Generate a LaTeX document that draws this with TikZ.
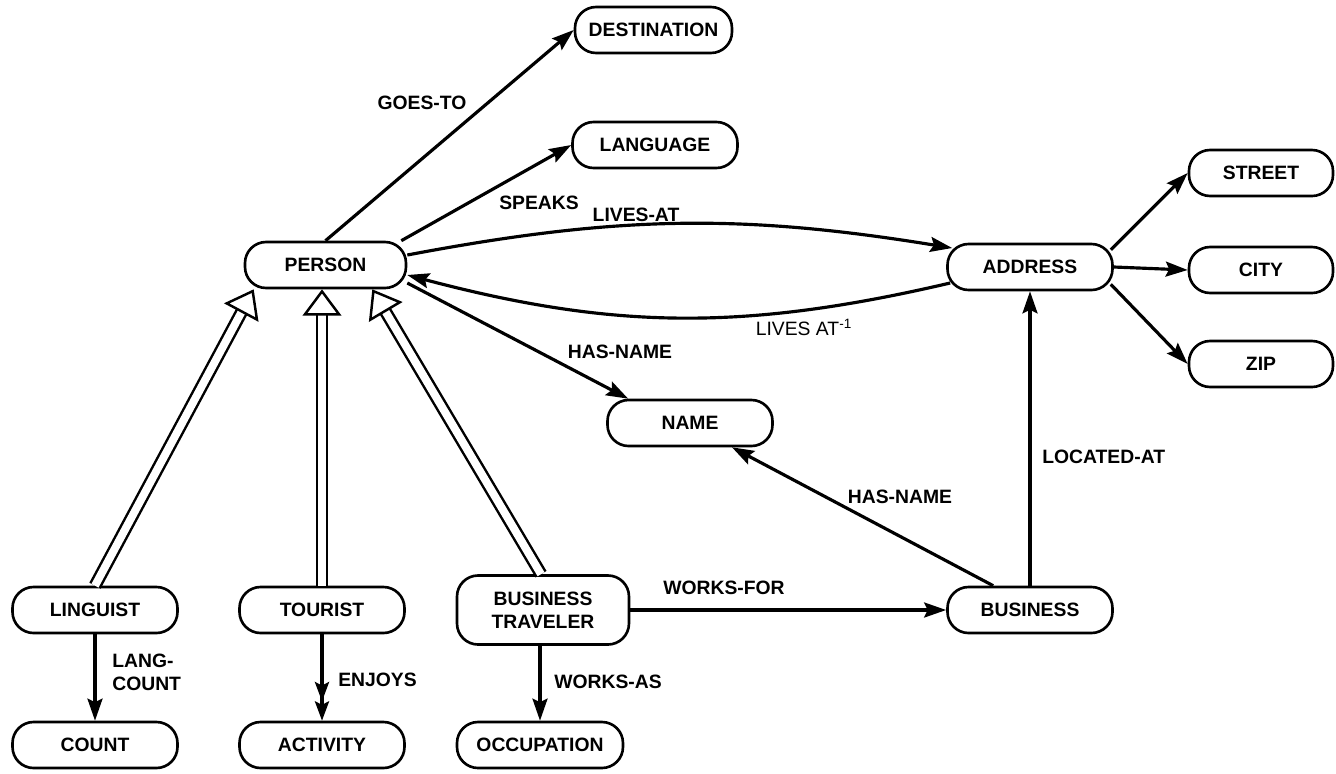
\documentclass[tikz,border=0pt]{standalone}
\usepackage{fontspec}
\setmainfont{Liberation Sans}
\usetikzlibrary{arrows.meta}
\usetikzlibrary{positioning}
\usetikzlibrary{calc}

\begin{document}
\begin{tikzpicture}[->,>={Stealth[length=12.5pt,width=8.5pt,inset=2pt]},line width=1.8pt]
	\tikzset{vertex/.style = {shape=rectangle, rounded corners=12pt, line width=1.5pt, draw, align=center, minimum width=3.3cm, minimum height=0.92cm, inner sep=2pt, font=\fontsize{11}{13}\selectfont\bfseries}}
	\tikzset{attr/.style = {vertex, minimum width=2.88cm}}
	\tikzset{isa/.style = {double, double distance=4.5pt, line width=1.4pt, -{Triangle[open,length=15pt,width=22pt]}}}
	\tikzset{rel/.style = {inner sep=1pt, align=left, font=\fontsize{11}{13}\selectfont\bfseries}}
	\useasboundingbox (0,0) rectangle (26.72,-15.46);

	\node[vertex, minimum width=3.14cm] (DEST) at (13.07,-0.60) {DESTINATION};
	\node[vertex] (LANG) at (13.10,-2.90) {LANGUAGE};
	\node[vertex, minimum width=3.22cm] (PERSON) at (6.51,-5.30) {PERSON};
	\node[vertex] (ADDR) at (20.60,-5.34) {ADDRESS};
	\node[attr] (STREET) at (25.22,-3.46) {STREET};
	\node[attr] (CITY) at (25.22,-5.40) {CITY};
	\node[attr] (ZIP) at (25.22,-7.28) {ZIP};
	\node[vertex] (NAME) at (13.80,-8.46) {NAME};
	\node[vertex] (LING) at (1.90,-12.20) {LINGUIST};
	\node[vertex] (TOUR) at (6.44,-12.20) {TOURIST};
	\node[vertex, minimum width=3.44cm, minimum height=1.38cm] (BTRAV) at (10.86,-12.20) {BUSINESS\\TRAVELER};
	\node[vertex] (BUS) at (20.60,-12.20) {BUSINESS};
	\node[vertex] (COUNT) at (1.90,-14.90) {COUNT};
	\node[vertex] (ACT) at (6.44,-14.90) {ACTIVITY};
	\node[vertex, minimum width=3.32cm] (OCC) at (10.80,-14.90) {OCCUPATION};

	\draw (PERSON.north) -- (DEST.west);
	\draw ([xshift=-0.12cm]PERSON.north east) -- (LANG.west);
	\draw ([yshift=0.2cm]PERSON.east) to[bend left=10] ([xshift=0.12cm,yshift=0.38cm]ADDR.west);
	\draw ([xshift=0.08cm,yshift=-0.32cm]ADDR.west) to[bend left=14] ([yshift=-0.2cm]PERSON.east);
	\draw ([yshift=-0.36cm]PERSON.east) -- ([xshift=0.44cm]NAME.north west);
	\draw ([xshift=-0.06cm,yshift=-0.14cm]ADDR.north east) -- (STREET.west);
	\draw (ADDR.east) -- (CITY.west);
	\draw ([xshift=-0.06cm,yshift=0.14cm]ADDR.south east) -- (ZIP.west);
	\draw (BUS.north) -- (ADDR.south);
	\draw ([xshift=0.94cm]BUS.north west) -- ([xshift=0.84cm]NAME.south);
	\draw (BTRAV.east) -- (BUS.west);
	\draw (LING.south) -- (COUNT.north);
	\draw[-{Stealth[length=11pt,width=8pt,inset=2pt]Stealth[length=11pt,width=8pt,inset=2pt]}] (TOUR.south) -- (ACT.north);
	\draw (BTRAV.south -| OCC.north) -- (OCC.north);

	\draw[isa] (LING.north) -- ([xshift=0.2cm]PERSON.south west);
	\draw[isa] (TOUR.north) -- (TOUR.north |- PERSON.south);
	\draw[isa] ([xshift=-0.04cm]BTRAV.north) -- ([xshift=-0.7cm]PERSON.south east);

	\node[rel] (goesto) at (8.44,-2.06) {GOES-TO};
	\node[rel] (speaks) at (10.78,-4.06) {SPEAKS};
	\node[rel] (livesat) at (12.72,-4.30) {LIVES-AT};
	\node[rel, font=\fontsize{11}{13}\selectfont] (livesinv) at (16.08,-6.54) {LIVES AT\textsuperscript{-1}};
	\node[rel] (hasname) at (12.40,-7.04) {HAS-NAME};
	\node[rel] (hasnameb) at (18.00,-9.94) {HAS-NAME};
	\node[rel, anchor=west] (locatedat) at (20.78,-9.14) {LOCATED-AT};
	\node[rel] (worksfor) at (14.48,-11.76) {WORKS-FOR};
	\node[rel, anchor=west] (langcount) at (2.18,-13.45) {LANG-\\COUNT};
	\node[rel, anchor=west] (enjoys) at (6.70,-13.60) {ENJOYS};
	\node[rel, anchor=west] (worksas) at (11.02,-13.64) {WORKS-AS};
\end{tikzpicture}
\end{document}
